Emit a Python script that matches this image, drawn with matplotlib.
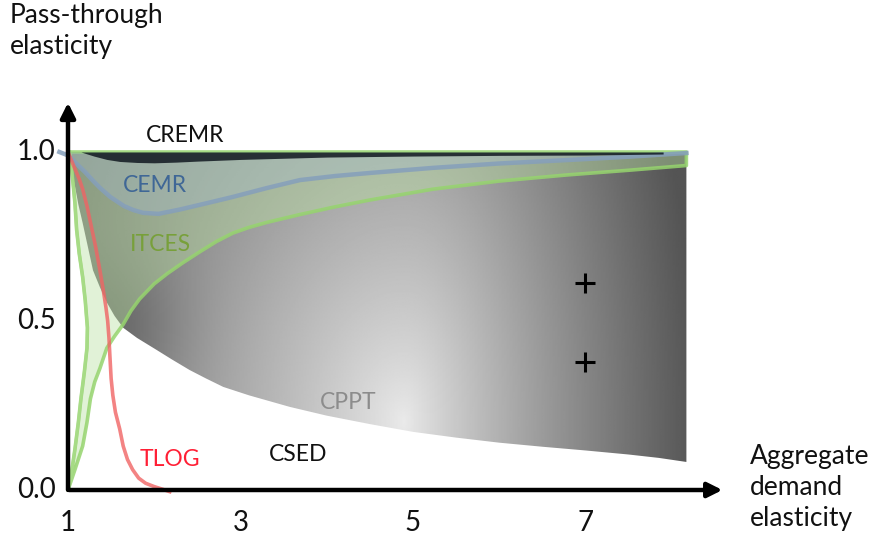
import numpy as np
import matplotlib
matplotlib.use("Agg")
import matplotlib.pyplot as plt
from matplotlib.patches import Polygon

plt.rcParams['font.family'] = ['Lato', 'DejaVu Sans']

# CPPT: lower edge of the grey region (upper edge is pass-through = 1)
cppt_x = [1.0, 1.04, 1.08, 1.12, 1.17, 1.23, 1.29, 1.37, 1.45, 1.54, 1.64, 1.8, 2.03, 2.2, 2.41,
          2.6, 2.8, 3.1, 3.57, 4.0, 4.5, 5.0, 5.5, 6.0, 6.5, 7.0, 7.5, 7.85, 8.17]
cppt_y = [1.0, 0.95, 0.9, 0.845, 0.79, 0.72, 0.65, 0.6, 0.555, 0.515, 0.48, 0.45, 0.414, 0.387, 0.355,
          0.33, 0.305, 0.28, 0.246, 0.22, 0.195, 0.172, 0.155, 0.14, 0.128, 0.117, 0.105, 0.095, 0.083]

# ITCES: left edge and lower edge of the green region
itces_left_x = [1.02, 1.05, 1.08, 1.1, 1.13, 1.17, 1.2, 1.225, 1.22, 1.19, 1.15, 1.12, 1.08, 1.04, 1.0]
itces_left_y = [1.0, 0.93, 0.85, 0.77, 0.7, 0.63, 0.56, 0.48, 0.42, 0.35, 0.27, 0.2, 0.12, 0.05, 0.0]
itces_low_x = [1.0, 1.08, 1.17, 1.22, 1.26, 1.31, 1.37, 1.45, 1.54, 1.64, 1.73, 1.83, 2.0, 2.15, 2.33,
               2.53, 2.72, 2.91, 3.1, 3.31, 3.69, 4.1, 4.5, 5.23, 6.0, 6.78, 7.5, 8.17]
itces_low_y = [0.0, 0.06, 0.13, 0.2, 0.27, 0.32, 0.36, 0.42, 0.455, 0.49, 0.53, 0.565, 0.61, 0.64, 0.672,
               0.705, 0.735, 0.76, 0.777, 0.792, 0.815, 0.838, 0.858, 0.89, 0.914, 0.932, 0.946, 0.96]

# CEMR
cemr_x = [0.9, 1.0, 1.1, 1.2, 1.29, 1.37, 1.49, 1.65, 1.76, 1.87, 2.05, 2.3, 2.6, 2.91, 3.3, 3.69,
          4.1, 4.5, 5.23, 6.0, 6.78, 7.5, 8.17]
cemr_y = [1.0, 0.99, 0.965, 0.94, 0.915, 0.894, 0.867, 0.84, 0.828, 0.82, 0.817, 0.83, 0.848, 0.867,
          0.893, 0.917, 0.929, 0.938, 0.953, 0.966, 0.976, 0.986, 0.997]

# CREMR: thin dark band under 1
cremr_x = [1.15, 1.3, 1.45, 1.6, 1.8, 2.0, 2.25, 2.5, 3.0, 4.0, 5.0, 6.0, 7.0, 7.9]
cremr_y = [1.0, 0.988, 0.978, 0.972, 0.969, 0.968, 0.97, 0.973, 0.978, 0.985, 0.988, 0.99, 0.991, 0.994]

# TLOG
tlog_x = [1.0, 1.04, 1.08, 1.13, 1.17, 1.22, 1.27, 1.32, 1.37, 1.41, 1.44, 1.46, 1.475, 1.485, 1.5,
          1.52, 1.55, 1.6, 1.64, 1.69, 1.75, 1.82, 1.9, 2.0, 2.1, 2.18]
tlog_y = [1.0, 0.975, 0.95, 0.92, 0.89, 0.84, 0.78, 0.72, 0.65, 0.59, 0.54, 0.5, 0.45, 0.4, 0.33,
          0.28, 0.23, 0.18, 0.13, 0.09, 0.06, 0.035, 0.02, 0.01, 0.002, -0.005]

plus_x = [7.0, 7.0]
plus_y = [0.612, 0.379]

xticks = [1, 3, 5, 7]
yticks = [0.0, 0.5, 1.0]

fig = plt.figure(figsize=(8.72, 5.38), dpi=100)
ax = fig.add_axes([0, 0, 1, 1])
ax.set_xlim(0.2116, 10.322)
ax.set_ylim(-0.142, 1.4497)
ax.axis('off')

# grey CPPT region with radial shading (darker towards the right edge and the left tip)
x_right = cppt_x[-1]
grey_pts = [(1.0, 1.0), (x_right, 1.0)] + list(zip(cppt_x[::-1], cppt_y[::-1]))
grey_poly = Polygon(grey_pts, closed=True, facecolor='none', edgecolor='none')
ax.add_patch(grey_poly)
gx = np.linspace(0.9, 8.3, 400)
gy = np.linspace(0.0, 1.05, 300)
GX, GY = np.meshgrid(gx, gy)
px = (GX - 4.9) * 86.25
dx = np.where(px > 0, px / 270.0, px / 420.0)
dy = (GY - 0.2) * 338.0 / 600.0
d = np.sqrt(dx ** 2 + dy ** 2)
tip = np.exp(-(((GX - 1.55) * 86.25) ** 2 + ((GY - 0.47) * 338.0) ** 2) / (2 * 50.0 ** 2))
shade = np.clip(0.92 - 0.55 * d ** 0.85 - 0.1 * tip, 0.33, 0.95)
im = ax.imshow(shade, extent=(gx[0], gx[-1], gy[0], gy[-1]), origin='lower',
               cmap='gray', vmin=0, vmax=1, aspect='auto', zorder=1)
im.set_clip_path(grey_poly)

# green ITCES region
green_pts = [(1.02, 1.0), (x_right, 1.0)] + list(zip(itces_low_x[::-1], itces_low_y[::-1])) \
    + list(zip(itces_left_x[::-1], itces_left_y[::-1]))
ax.add_patch(Polygon(green_pts, closed=True, facecolor='#b8e0a0', alpha=0.42,
                     edgecolor='none', zorder=2))
ax.add_patch(Polygon(green_pts, closed=True, facecolor='none', edgecolor='#96d46e',
                     lw=2.6, alpha=0.85, joinstyle='round', zorder=3))
ax.plot(itces_left_x, itces_left_y, color='#a8dc88', lw=2.2, alpha=0.8, zorder=3)

# CEMR
ax.fill_between(cemr_x, cemr_y, 1.0, color='#a8bccf', alpha=0.35, lw=0, zorder=4)
ax.plot(cemr_x, cemr_y, color='#859fbb', lw=3.2, alpha=0.85, zorder=4)

# CREMR
ax.fill_between(cremr_x, cremr_y, 1.0, color='#111820', alpha=0.85, lw=0, zorder=5)

# TLOG
ax.plot(tlog_x, tlog_y, color='#f06464', lw=2.6, alpha=0.8, zorder=6)

# plus signs
ax.scatter(plus_x, plus_y, marker='+', s=220, color='black', linewidths=2.2, zorder=7)

# axes arrows
ax.annotate('', xy=(8.62, 0.0), xytext=(0.98, 0.0),
            arrowprops=dict(arrowstyle='-|>', lw=3.2, color='black', mutation_scale=22), zorder=8)
ax.annotate('', xy=(1.0, 1.154), xytext=(1.0, -0.008),
            arrowprops=dict(arrowstyle='-|>', lw=3.2, color='black', mutation_scale=22), zorder=8)

for t in yticks:
    ax.text(0.86, t, f"{t:.1f}", ha='right', va='center', fontsize=20, color='#111111')
for t in xticks:
    ax.text(t, -0.098, str(t), ha='center', va='center', fontsize=20, color='#111111')

ax.text(0.327, 1.44, "Pass-through\nelasticity", ha='left', va='top', fontsize=19,
        linespacing=1.3, color='#111111')
ax.text(8.907, 0.006, "Aggregate\ndemand\nelasticity", ha='left', va='center', fontsize=19,
        linespacing=1.3, color='#111111')

lab = 16.5
ax.text(2.36, 1.05, "CREMR", ha='center', va='center', fontsize=lab, color='#111111', zorder=9)
ax.text(2.01, 0.902, "CEMR", ha='center', va='center', fontsize=lab, color='#3f6796', zorder=9)
ax.text(2.07, 0.725, "ITCES", ha='center', va='center', fontsize=lab, color='#78a03a', zorder=9)
ax.text(4.25, 0.26, "CPPT", ha='center', va='center', fontsize=lab, color='#8c8c8c', zorder=9)
ax.text(2.18, 0.089, "TLOG", ha='center', va='center', fontsize=lab, color='#ff1f35', zorder=9)
ax.text(3.67, 0.104, "CSED", ha='center', va='center', fontsize=lab, color='#111111', zorder=9)

fig.savefig("out.png", dpi=100)
